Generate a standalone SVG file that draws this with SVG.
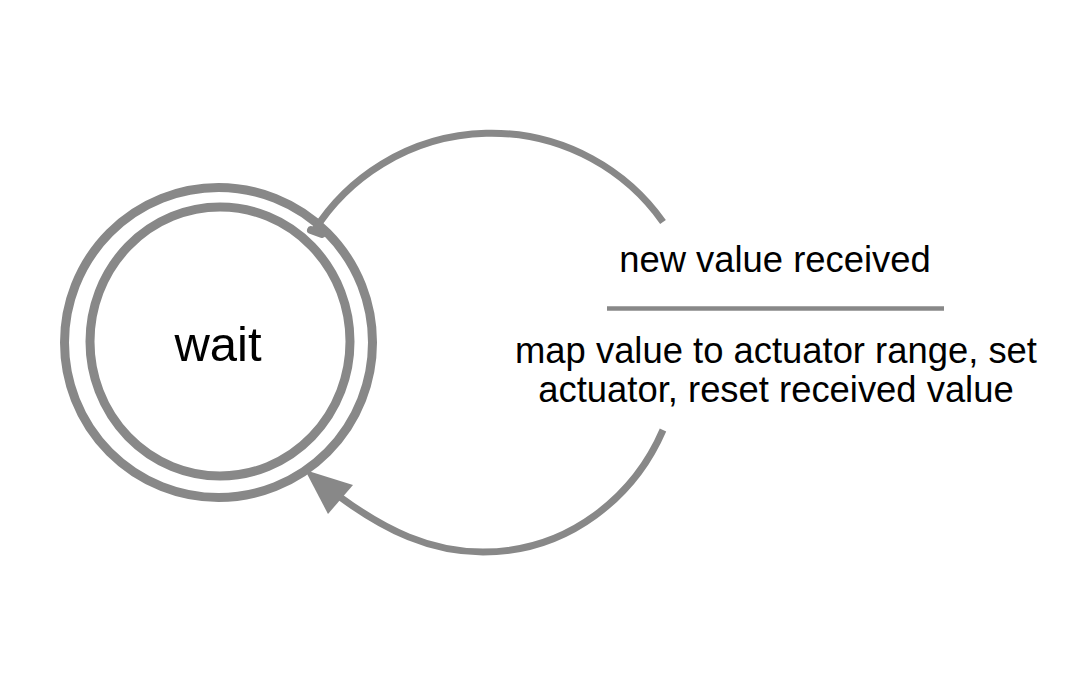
<svg xmlns="http://www.w3.org/2000/svg" width="1084" height="690" viewBox="0 0 1084 690">
<style>
.ring{fill:none;stroke:#888888;stroke-width:9}
.edge{fill:none;stroke:#888888;stroke-width:7}
.lbl{font-family:"Liberation Sans",Arial,sans-serif;font-size:36.4px;fill:#000;text-anchor:middle}
.name{font-family:"Liberation Sans",Arial,sans-serif;font-size:49px;fill:#000;text-anchor:middle}
</style>
<rect width="1084" height="690" fill="#ffffff"/>
<g id="node-wait">
<ellipse class="ring" cx="218.5" cy="342.5" rx="154" ry="155"/>
<ellipse class="ring" cx="220" cy="341.5" rx="130" ry="134.5"/>
<text class="name" x="218" y="361">wait</text>
</g>
<g id="connectors">
<path class="edge" d="M 314 231 A 210 210 0 0 1 663 222"/>
<line x1="311" y1="230" x2="322" y2="234" stroke="#888888" stroke-width="8" stroke-linecap="round"/>
<path class="edge" d="M 663 430 C 635 495 570 552 483 552 C 430 552 385 530 340 497"/>
<polygon points="305,470 353,485 328,514" fill="#888888"/>
<line x1="607" y1="308.5" x2="944" y2="308.5" stroke="#888888" stroke-width="4.5"/>
<text class="lbl" x="775" y="272">new value received</text>
<text class="lbl" x="776" y="363">map value to actuator range, set</text>
<text class="lbl" x="776" y="402">actuator, reset received value</text>
</g>
</svg>
